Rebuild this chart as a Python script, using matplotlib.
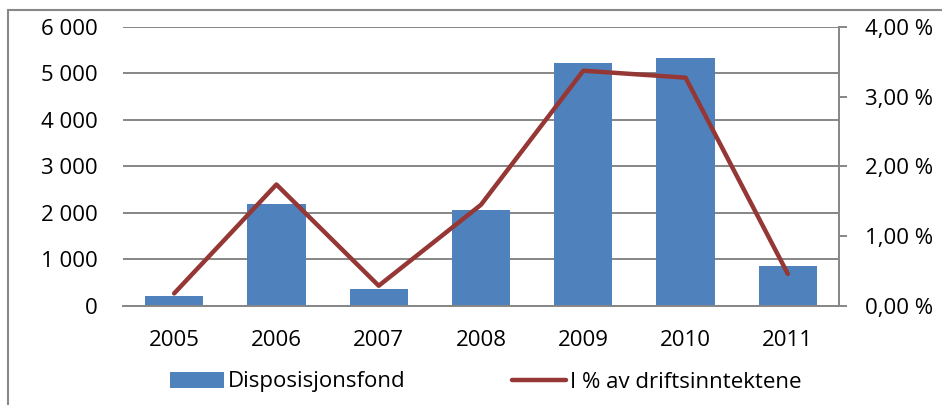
import matplotlib
matplotlib.use("Agg")
import matplotlib.pyplot as plt
from matplotlib.patches import Rectangle
from matplotlib.ticker import FuncFormatter

plt.rcParams['font.family'] = ['Open Sans', 'DejaVu Sans']

years = ['2005', '2006', '2007', '2008', '2009', '2010', '2011']
fond = [210, 2190, 365, 2055, 5210, 5335, 866]          # Disposisjonsfond
pct = [0.18, 1.74, 0.29, 1.45, 3.37, 3.27, 0.46]        # I % av driftsinntektene

bar_col = '#4F81BD'
line_col = '#953735'
grid_col = '#868686'
fs = 16

fig = plt.figure(figsize=(9.42, 4.05), dpi=100)
ax = fig.add_axes([123/942, 1 - 306/405, (839 - 123)/942, (306 - 26.7)/405])

x = range(len(years))
b = ax.bar(x, fond, width=0.57, color=bar_col, label='Disposisjonsfond', zorder=2)
ax.set_xlim(-0.5, len(years) - 0.5)
ax.set_ylim(0, 6000)
ax.set_yticks(range(0, 6001, 1000))
ax.yaxis.set_major_formatter(FuncFormatter(lambda v, p: f"{int(v):,}".replace(',', ' ')))
ax.set_xticks(list(x))
ax.set_xticklabels(years)
ax.grid(axis='y', color=grid_col, linewidth=1.4, zorder=0)
ax.tick_params(axis='y', length=0, pad=18, labelsize=fs)
ax.tick_params(axis='x', length=0, pad=17, labelsize=fs)
for s in ['left', 'top', 'right']:
    ax.spines[s].set_visible(False)
ax.spines['bottom'].set_color(grid_col)
ax.spines['bottom'].set_linewidth(1.4)

ax2 = ax.twinx()
ln, = ax2.plot(x, pct, color=line_col, linewidth=3.2, solid_capstyle='round',
               label='I % av driftsinntektene', zorder=3)
ax2.set_ylim(0, 4)
ax2.set_yticks([0, 1, 2, 3, 4])
ax2.yaxis.set_major_formatter(FuncFormatter(lambda v, p: f"{v:.2f}".replace('.', ',') + ' %'))
ax2.tick_params(axis='y', length=6, width=1.4, color=grid_col, direction='out', pad=13, labelsize=fs)
for s in ['left', 'top', 'bottom']:
    ax2.spines[s].set_visible(False)
ax2.spines['right'].set_color(grid_col)
ax2.spines['right'].set_linewidth(1.4)

fig.legend(handles=[b, ln], loc='center', bbox_to_anchor=(486/942, 1 - 382/405),
           ncol=2, frameon=False, fontsize=fs, handlelength=2.4, handleheight=0.7,
           handletextpad=0.2, columnspacing=4.8)

# outer chart frame
fig.patches.append(Rectangle((8/942, -0.1), 1.1, 0.1 + 1 - 10/405, transform=fig.transFigure,
                             fill=False, edgecolor='#888888', linewidth=1.5))

fig.savefig('out.png', dpi=100)
